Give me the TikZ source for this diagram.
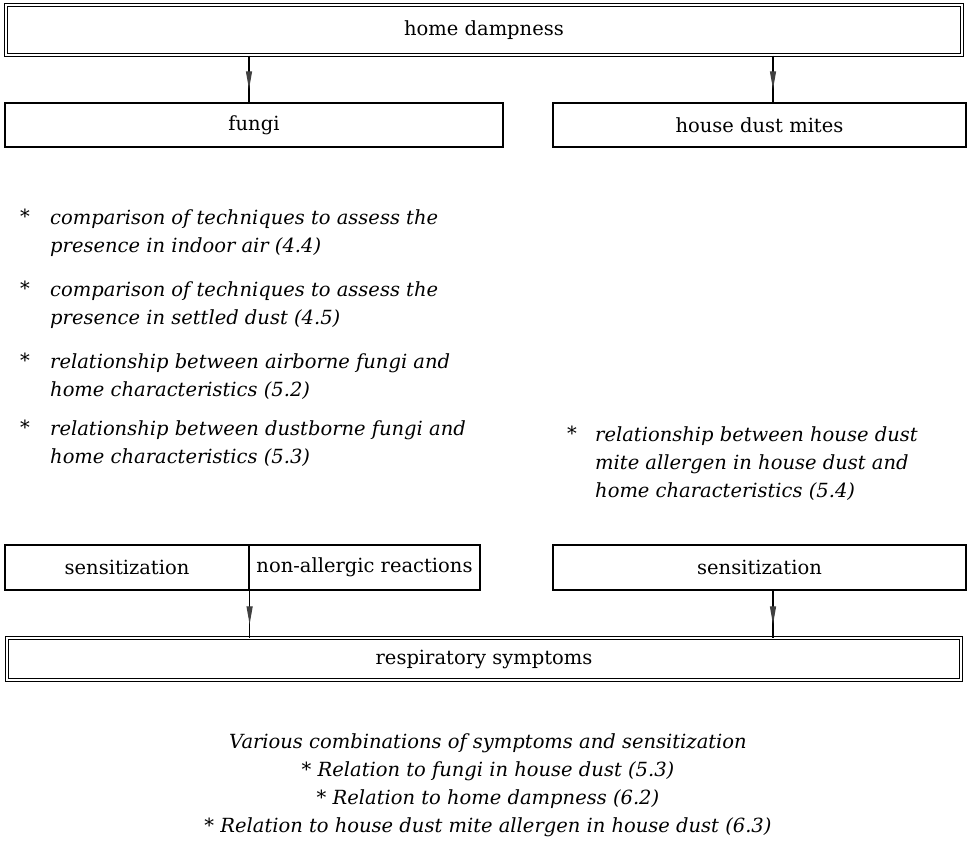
\documentclass[tikz,border=0pt]{standalone}
\usepackage{fontspec}
\setmainfont{DejaVu Serif}
\usetikzlibrary{arrows.meta}
\usetikzlibrary{decorations.markings}
\newcommand{\bodyfont}{\fontsize{19.5pt}{28pt}\selectfont}
\tikzset{
  box/.style={draw,line width=1.2pt,inner sep=0pt,font=\bodyfont},
  dblbox/.style={draw,double,double distance=2.2pt,line width=1pt,inner sep=0pt,font=\bodyfont},
  midarrow/.style={line width=1.2pt,postaction={decorate},
    decoration={markings,
      mark=at position 0.72 with {\arrow[black!75]{Triangle[length=18pt,width=6pt]}}}},
  itemtext/.style={anchor=north west,inner sep=0pt,align=left,font=\bodyfont\itshape},
  itemstar/.style={anchor=north west,inner sep=0pt,font=\bodyfont},
}
\begin{document}
\begin{tikzpicture}[x=1pt,y=-1pt]
  \useasboundingbox (0,0) rectangle (967,841);

  % Boxes {{{
  \node[dblbox,minimum width=956,minimum height=50] (damp) at (484,30) {home dampness};
  \node[box,minimum width=498,minimum height=44] (fungi) at (254,125) {fungi};
  \node[box,minimum width=413,minimum height=44] (mites) at (759.5,125) {house dust mites};

  \node[box,minimum width=244,minimum height=45] (sens1) at (127,567.5) {sensitization};
  \node[box,minimum width=231,minimum height=45] (nonall) at (364.5,567.5) {non-allergic reactions};
  \node[box,minimum width=413,minimum height=45] (sens2) at (759.5,567.5) {sensitization};
  \node[dblbox,minimum width=954,minimum height=42] (resp) at (484,659) {respiratory symptoms};
  % }}}

  % Arrows {{{
  \draw[midarrow] (damp.south -| 249,0) -- (fungi.north -| 249,0);
  \draw[midarrow] (damp.south -| 773,0) -- (mites.north -| 773,0);
  \draw[midarrow] (sens1.south east) -- (sens1.south east |- resp.north);
  \draw[midarrow] (sens2.south -| 773,0) -- (resp.north -| 773,0);
  % }}}

  % Items {{{
  \node[itemstar] (star1) at (20,209) {*};
  \node[itemtext] (item1) at (50,209) {comparison of techniques to assess the\\presence in indoor air (4.4)};
  \node[itemstar] (star2) at (20,281) {*};
  \node[itemtext] (item2) at (50,281) {comparison of techniques to assess the\\presence in settled dust (4.5)};
  \node[itemstar] (star3) at (20,353) {*};
  \node[itemtext] (item3) at (50,353) {relationship between airborne fungi and\\home characteristics (5.2)};
  \node[itemstar] (star4) at (20,420) {*};
  \node[itemtext] (item4) at (50,420) {relationship between dustborne fungi and\\home characteristics (5.3)};
  \node[itemstar] (star5) at (567,426) {*};
  \node[itemtext] (item5) at (595,426) {relationship between house dust\\mite allergen in house dust and\\home characteristics (5.4)};
  % }}}

  \node[anchor=north,inner sep=0pt,align=center,font=\bodyfont\itshape] (combi) at (488,733)
    {Various combinations of symptoms and sensitization\\
     * Relation to fungi in house dust (5.3)\\
     * Relation to home dampness (6.2)\\
     * Relation to house dust mite allergen in house dust (6.3)};
\end{tikzpicture}
\end{document}
